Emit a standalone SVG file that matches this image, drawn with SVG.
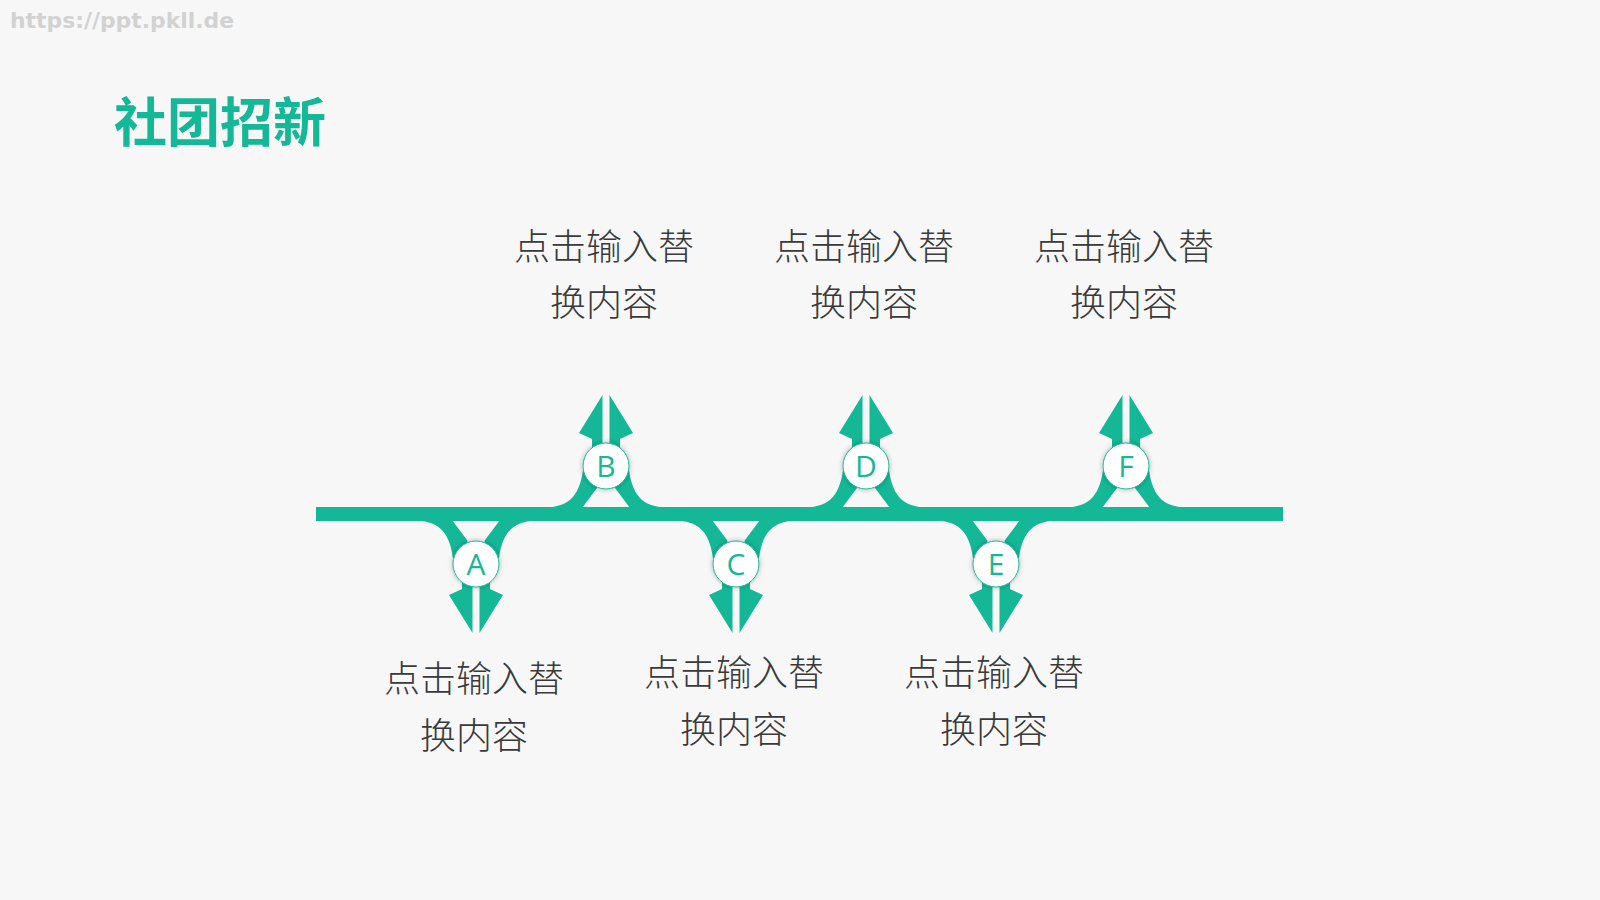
<svg xmlns="http://www.w3.org/2000/svg" xmlns:xlink="http://www.w3.org/1999/xlink" width="1600" height="900" viewBox="0 0 1600 900">
  <defs>
    <style>
      .teal { fill: #14b896; }
      .desc { font-family: "Noto Sans CJK SC", "Noto Sans", sans-serif; font-size: 36px; font-weight: 300; fill: #3a3a3a; text-anchor: middle; }
      .letter { font-family: "Open Sans", "Noto Sans", sans-serif; font-size: 30px; fill: #14b896; text-anchor: middle; }
      .badge { fill: #ffffff; stroke: #14b896; stroke-width: 1; filter: url(#shadow); }
    </style>
    <filter id="shadow" x="-50%" y="-50%" width="200%" height="200%">
      <feDropShadow dx="0" dy="0" stdDeviation="2.5" flood-color="#000000" flood-opacity="0.3"/>
    </filter>
    <g id="fork" class="teal">
      <path d="M -64,-6 C -38,-7 -27,-16 -23,-44 L -4,-44 L -9,-26 L -24,-6 Z"/>
      <path d="M 64,-6 C 38,-7 27,-16 23,-44 L 4,-44 L 9,-26 L 24,-6 Z"/>
      <polygon points="-3.5,-119 -27,-81 -14,-75 -14,-44 -3.5,-44"/>
      <polygon points="3.5,-119 27,-81 14,-75 14,-44 3.5,-44"/>
    </g>
  </defs>
  <rect width="1600" height="900" fill="#f7f7f7"/>
  <text x="10" y="28" font-family="'DejaVu Sans', sans-serif" font-weight="bold" font-size="22" fill="#d2d2d2" textLength="224" lengthAdjust="spacingAndGlyphs">https://ppt.pkll.de</text>
  <text x="114" y="142" font-family="'Noto Sans CJK SC', sans-serif" font-weight="bold" font-size="53" fill="#14b896">社团招新</text>

  <g id="connectors">
    <rect x="316" y="507" width="967" height="14" class="teal"/>
    <use xlink:href="#fork" transform="translate(476,514) scale(1,-1)"/>
    <use xlink:href="#fork" transform="translate(606,514)"/>
    <use xlink:href="#fork" transform="translate(736,514) scale(1,-1)"/>
    <use xlink:href="#fork" transform="translate(866,514)"/>
    <use xlink:href="#fork" transform="translate(996,514) scale(1,-1)"/>
    <use xlink:href="#fork" transform="translate(1126,514)"/>
  </g>

  <g id="node-A">
    <circle cx="476" cy="564" r="23" class="badge"/>
    <text x="476" y="575" class="letter">A</text>
    <text x="474" y="692" class="desc">点击输入替</text>
    <text x="474" y="749" class="desc">换内容</text>
  </g>
  <g id="node-B">
    <circle cx="606" cy="466" r="23" class="badge"/>
    <text x="606" y="477" class="letter">B</text>
    <text x="604" y="260" class="desc">点击输入替</text>
    <text x="604" y="316" class="desc">换内容</text>
  </g>
  <g id="node-C">
    <circle cx="736" cy="564" r="23" class="badge"/>
    <text x="736" y="575" class="letter">C</text>
    <text x="734" y="686" class="desc">点击输入替</text>
    <text x="734" y="743" class="desc">换内容</text>
  </g>
  <g id="node-D">
    <circle cx="866" cy="466" r="23" class="badge"/>
    <text x="866" y="477" class="letter">D</text>
    <text x="864" y="260" class="desc">点击输入替</text>
    <text x="864" y="316" class="desc">换内容</text>
  </g>
  <g id="node-E">
    <circle cx="996" cy="564" r="23" class="badge"/>
    <text x="996" y="575" class="letter">E</text>
    <text x="994" y="686" class="desc">点击输入替</text>
    <text x="994" y="743" class="desc">换内容</text>
  </g>
  <g id="node-F">
    <circle cx="1126" cy="466" r="23" class="badge"/>
    <text x="1126" y="477" class="letter">F</text>
    <text x="1124" y="260" class="desc">点击输入替</text>
    <text x="1124" y="316" class="desc">换内容</text>
  </g>
</svg>
